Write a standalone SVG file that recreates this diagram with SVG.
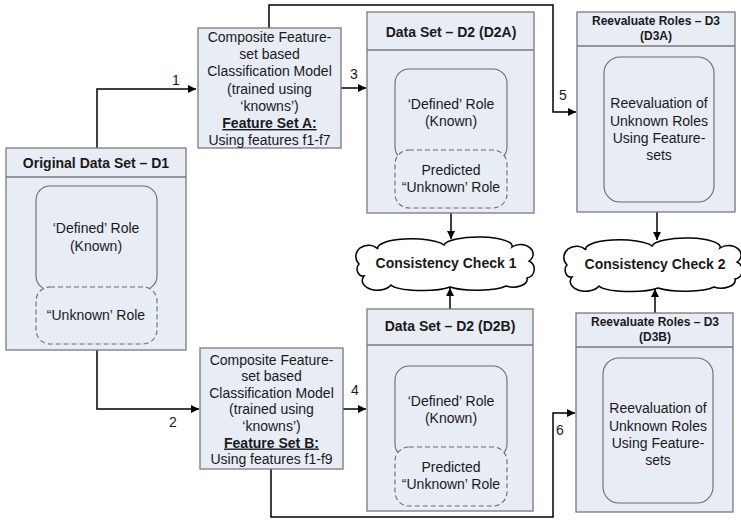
<svg xmlns="http://www.w3.org/2000/svg" width="741" height="521" viewBox="0 0 741 521">
<defs>
<style>
text{font-family:"Liberation Sans",Arial,sans-serif;fill:#1a1a1a;text-anchor:middle}
.t{font-size:14px}
.h{font-size:14px;font-weight:bold}
.hs{font-size:12px;font-weight:bold}
.box{fill:#e8ecf5;stroke:#7a7a7a;stroke-width:1.3}
.in{fill:#e8ecf5;stroke:#6a6a6a;stroke-width:1.1}
.dash{fill:#e8ecf5;stroke:#6a6a6a;stroke-width:1.1;stroke-dasharray:5 3}
.con{fill:none;stroke:#000;stroke-width:1.5}
.cloud{fill:#fff;stroke:#000;stroke-width:1.5}
</style>
<marker id="ah" viewBox="0 0 10 10" refX="10" refY="5" markerWidth="10" markerHeight="8" markerUnits="userSpaceOnUse" orient="auto">
<path d="M0,0 L10,5 L0,10 Z" fill="#000"/>
</marker>
<path id="cloudShape" d="M -87,0 A 10,9 0 0 1 -68,-15 A 34,9 0 0 1 -2,-19 A 34,9 0 0 1 66,-17 A 12,9 0 0 1 83,-3 A 9,9 0 0 1 81,14 A 14,8 0 0 1 60,22 A 32,7 0 0 1 4,23 A 32,7 0 0 1 -55,21 A 14,9 0 0 1 -82,12 A 6,7 0 0 1 -87,0 Z"/>
</defs>

<g id="connectors">
<path class="con" d="M97,148 V89 H196" marker-end="url(#ah)"/>
<path class="con" d="M97,350 V409 H199" marker-end="url(#ah)"/>
<path class="con" d="M341,88 H366" marker-end="url(#ah)"/>
<path class="con" d="M343,409 H366" marker-end="url(#ah)"/>
<path class="con" d="M269,28 V5 H553 V112 H576" marker-end="url(#ah)"/>
<path class="con" d="M271,469 V517 H553 V413 H575" marker-end="url(#ah)"/>
<path class="con" d="M451,213 V239" marker-end="url(#ah)"/>
<path class="con" d="M450,309 V288" marker-end="url(#ah)"/>
<path class="con" d="M657,212 V240" marker-end="url(#ah)"/>
<path class="con" d="M655,313 V289" marker-end="url(#ah)"/>
<text class="t" x="176" y="85">1</text>
<text class="t" x="173" y="427">2</text>
<text class="t" x="354" y="79">3</text>
<text class="t" x="355" y="395">4</text>
<text class="t" x="563" y="100">5</text>
<text class="t" x="560" y="435">6</text>
</g>

<g id="d1">
<rect class="box" x="6" y="148" width="180" height="202"/>
<line x1="6" y1="177" x2="186" y2="177" stroke="#7a7a7a" stroke-width="1.3"/>
<text class="h" x="96" y="168">Original Data Set – D1</text>
<rect class="in" x="36" y="186" width="121" height="104" rx="14"/>
<rect class="dash" x="36" y="287" width="121" height="57" rx="14"/>
<text class="t" x="96" y="233">‘Defined’ Role</text>
<text class="t" x="96" y="251">(Known)</text>
<text class="t" x="96" y="320">“Unknown’ Role</text>
</g>

<g id="modelA">
<rect class="box" x="198" y="28" width="143" height="120"/>
<text class="t" x="269.5" y="42">Composite Feature-</text>
<text class="t" x="269.5" y="59">set based</text>
<text class="t" x="269.5" y="76">Classification Model</text>
<text class="t" x="269.5" y="93.5">(trained using</text>
<text class="t" x="269.5" y="111">‘knowns’)</text>
<text class="h" x="269.5" y="128" text-decoration="underline">Feature Set A:</text>
<text class="t" x="269.5" y="145">Using features f1-f7</text>
</g>

<g id="modelB">
<rect class="box" x="200" y="348" width="143" height="121"/>
<text class="t" x="271.5" y="365">Composite Feature-</text>
<text class="t" x="271.5" y="381">set based</text>
<text class="t" x="271.5" y="397.5">Classification Model</text>
<text class="t" x="271.5" y="414">(trained using</text>
<text class="t" x="271.5" y="430.5">‘knowns’)</text>
<text class="h" x="271.5" y="447.5" text-decoration="underline">Feature Set B:</text>
<text class="t" x="271.5" y="464">Using features f1-f9</text>
</g>

<g id="d2a">
<rect class="box" x="367" y="12" width="167" height="201"/>
<line x1="367" y1="50" x2="534" y2="50" stroke="#7a7a7a" stroke-width="1.3"/>
<text class="h" x="451" y="37">Data Set – D2 (D2A)</text>
<rect class="in" x="395" y="69" width="112" height="92" rx="14"/>
<rect class="dash" x="395" y="150" width="112" height="58" rx="14"/>
<text class="t" x="451" y="109">‘Defined’ Role</text>
<text class="t" x="451" y="126">(Known)</text>
<text class="t" x="451" y="175">Predicted</text>
<text class="t" x="451" y="192">“Unknown’ Role</text>
</g>

<g id="d2b">
<rect class="box" x="367" y="309" width="166" height="202"/>
<line x1="367" y1="345" x2="533" y2="345" stroke="#7a7a7a" stroke-width="1.3"/>
<text class="h" x="450" y="331">Data Set – D2 (D2B)</text>
<rect class="in" x="395" y="366" width="112" height="92" rx="14"/>
<rect class="dash" x="395" y="447" width="112" height="59" rx="14"/>
<text class="t" x="451" y="406">‘Defined’ Role</text>
<text class="t" x="451" y="423">(Known)</text>
<text class="t" x="451" y="472">Predicted</text>
<text class="t" x="451" y="489">“Unknown’ Role</text>
</g>

<g id="d3a">
<rect class="box" x="577" y="12" width="158" height="200"/>
<line x1="577" y1="46" x2="735" y2="46" stroke="#7a7a7a" stroke-width="1.3"/>
<text class="hs" x="656" y="25">Reevaluate Roles – D3</text>
<text class="hs" x="656" y="40">(D3A)</text>
<rect class="in" x="604" y="57" width="110" height="145" rx="16"/>
<text class="t" x="659" y="108">Reevaluation of</text>
<text class="t" x="659" y="125.5">Unknown Roles</text>
<text class="t" x="659" y="143">Using Feature-</text>
<text class="t" x="659" y="160">sets</text>
</g>

<g id="d3b">
<rect class="box" x="576" y="313" width="157" height="199"/>
<line x1="576" y1="347" x2="733" y2="347" stroke="#7a7a7a" stroke-width="1.3"/>
<text class="hs" x="655" y="326">Reevaluate Roles – D3</text>
<text class="hs" x="655" y="341">(D3B)</text>
<rect class="in" x="603" y="358" width="110" height="145" rx="16"/>
<text class="t" x="658" y="413">Reevaluation of</text>
<text class="t" x="658" y="430.5">Unknown Roles</text>
<text class="t" x="658" y="448">Using Feature-</text>
<text class="t" x="658" y="465">sets</text>
</g>

<g id="cc1">
<use href="#cloudShape" class="cloud" transform="translate(446,264)"/>
<text class="h" x="446" y="268">Consistency Check 1</text>
</g>

<g id="cc2">
<use href="#cloudShape" class="cloud" transform="translate(654,265)"/>
<text class="h" x="655" y="269">Consistency Check 2</text>
</g>
</svg>
